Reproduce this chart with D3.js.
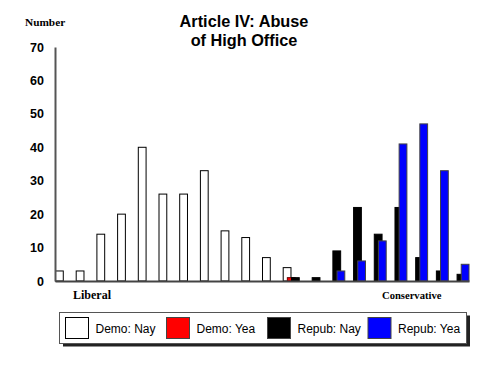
<!DOCTYPE html>
<html><head><meta charset="utf-8">
<script src="https://cdn.jsdelivr.net/npm/d3@7"></script>
<style>body{margin:0;background:#fff}svg{display:block}</style>
</head><body>
<svg id="c" width="500" height="375"></svg>
<script>
const categories = ["1","2","3","4","5","6","7","8","9","10","11","12","13","14","15","16","17","18","19","20"];
const demoNay  = [3,3,14,20,40,26,26,33,15,13,7,4,0,0,0,0,0,0,0,0];
const demoYea  = [0,0,0,0,0,0,0,0,0,0,0,1,0,0,0,0,0,0,0,0];
const repubNay = [0,0,0,0,0,0,0,0,0,0,0,1,1,9,22,14,22,7,3,2];
const repubYea = [0,0,0,0,0,0,0,0,0,0,0,0,0,3,6,12,41,47,33,5];
const yTicks = [0,10,20,30,40,50,60,70];
const seriesNames = ["Demo: Nay","Demo: Yea","Repub: Nay","Repub: Yea"];
const seriesFill = ["#ffffff","#ff0000","#000000","#0000ff"];
const seriesStroke = ["#000000","#660000","#000000","#444444"];
const seriesValues = [demoNay, demoYea, repubNay, repubYea];

const svg = d3.select("#c");
const x = d3.scaleBand().domain(categories).range([55, 469]).padding(0);
const y = d3.scaleLinear().domain([0, 70]).range([281, 47]);
const bw = x.bandwidth();

// bars
seriesValues.forEach((vals, si) => {
  svg.append("g").selectAll("rect").data(vals.map((v, i) => ({v, c: categories[i]})).filter(d => d.v > 0))
    .join("rect")
    .attr("x", d => x(d.c) + si * bw * 0.2 + 0.5)
    .attr("y", d => y(d.v))
    .attr("width", bw * 0.4 - 0.5)
    .attr("height", d => y(0) - y(d.v))
    .attr("fill", seriesFill[si])
    .attr("stroke", seriesStroke[si])
    .attr("stroke-width", 1);
});

// axes
const yAxis = svg.append("g").attr("transform", "translate(55,0)")
  .call(d3.axisLeft(y).tickValues(yTicks).tickSize(0).tickSizeOuter(0).tickPadding(11));
yAxis.select(".domain").attr("stroke", "#555").attr("stroke-width", 2);
yAxis.selectAll("text").attr("font-family", "Liberation Sans, Arial, sans-serif")
  .attr("font-size", 12.5).attr("font-weight", "bold").attr("fill", "#000");

const xAxis = svg.append("g").attr("transform", "translate(0,281)")
  .call(d3.axisBottom(x).tickSize(0).tickSizeOuter(0).tickFormat(""));
xAxis.select(".domain").attr("stroke", "#444").attr("stroke-width", 2);

// title
const title = svg.append("text").attr("text-anchor", "middle")
  .attr("font-family", "Liberation Sans, Arial, sans-serif").attr("font-weight", "bold")
  .attr("font-size", 16.3).attr("fill", "#000");
title.append("tspan").attr("x", 244).attr("y", 27).text("Article IV: Abuse");
title.append("tspan").attr("x", 244).attr("y", 46).text("of High Office");

const serif = "Liberation Serif, Times New Roman, serif";
svg.append("text").attr("x", 25).attr("y", 26).attr("font-family", serif)
  .attr("font-weight", "bold").attr("font-size", 11.3).text("Number");
svg.append("text").attr("x", 73).attr("y", 299).attr("font-family", serif)
  .attr("font-weight", "bold").attr("font-size", 12).text("Liberal");
svg.append("text").attr("x", 382).attr("y", 299).attr("font-family", serif)
  .attr("font-weight", "bold").attr("font-size", 10.6).text("Conservative");

// legend
const lg = svg.append("g");
lg.append("rect").attr("x", 63).attr("y", 315.5).attr("width", 407).attr("height", 31).attr("fill", "#222");
lg.append("rect").attr("x", 59.5).attr("y", 312.5).attr("width", 407).attr("height", 31)
  .attr("fill", "#fff").attr("stroke", "#555").attr("stroke-width", 1);
const lx = [65, 166, 267, 367.5];
seriesNames.forEach((n, i) => {
  lg.append("rect").attr("x", lx[i] + 0.5).attr("y", 317.5).attr("width", 23).attr("height", 21)
    .attr("fill", seriesFill[i]).attr("stroke", i === 0 ? "#000" : "#444").attr("stroke-width", 1);
  lg.append("text").attr("x", lx[i] + 30.5).attr("y", 332.5)
    .attr("font-family", "Liberation Sans, Arial, sans-serif").attr("font-size", 12).text(n);
});
</script>
</body></html>
